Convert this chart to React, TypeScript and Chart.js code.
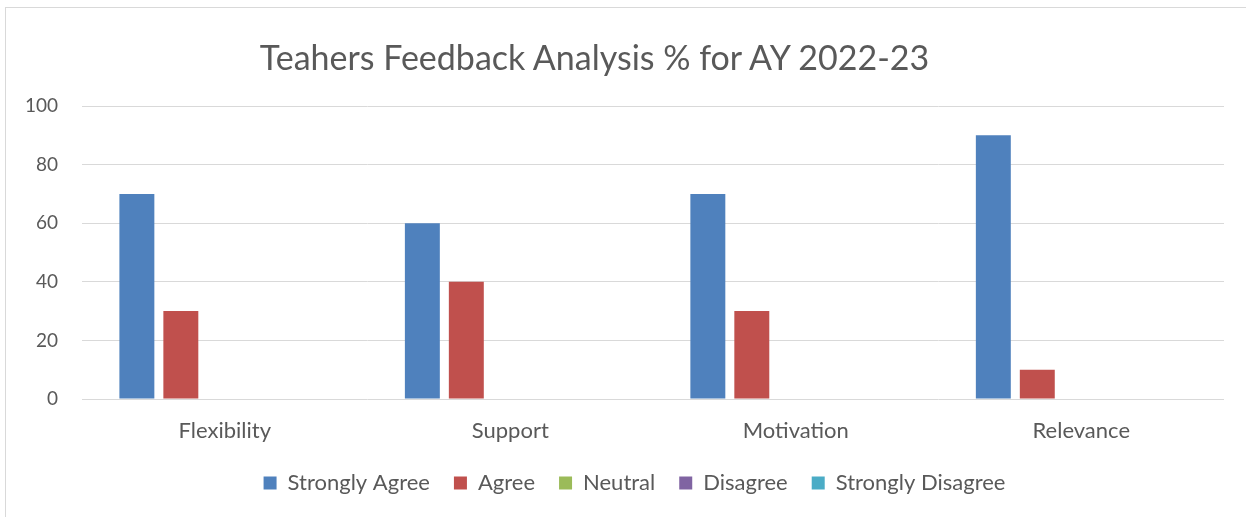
import React, { useEffect, useRef } from "react";
import { Chart, registerables } from "chart.js";

Chart.register(...registerables);

const categories = ["Flexibility", "Support", "Motivation", "Relevance"];
const stronglyAgree = [70, 60, 70, 90];
const agree = [30, 40, 30, 10];
const neutral = [0, 0, 0, 0];
const disagree = [0, 0, 0, 0];
const stronglyDisagree = [0, 0, 0, 0];
const seriesNames = ["Strongly Agree", "Agree", "Neutral", "Disagree", "Strongly Disagree"];
const seriesColors = ["#4F81BD", "#C0504D", "#9BBB59", "#8064A2", "#4BACC6"];
const titleText = "Teahers Feedback Analysis % for AY 2022-23";
const yMin = 0;
const yMax = 100;
const yStep = 20;

const FONT = "Lato, 'Open Sans', sans-serif";
const TEXT = "#595959";

const legendShift = {
  id: "legendShift",
  afterLayout(chart: any) {
    if (chart.legend) {
      chart.legend.left += 22;
      chart.legend.right += 22;
      chart.legend.top += 4;
      chart.legend.bottom += 4;
    }
  },
};

export default function App() {
  const canvasRef = useRef<HTMLCanvasElement | null>(null);

  useEffect(() => {
    document.body.style.margin = "0";
    const ctx = canvasRef.current;
    if (!ctx) return;
    const values = [stronglyAgree, agree, neutral, disagree, stronglyDisagree];
    const chart = new Chart(ctx, {
      type: "bar",
      data: {
        labels: categories,
        datasets: values.map((v, i) => ({
          label: seriesNames[i],
          data: v,
          backgroundColor: seriesColors[i],
          borderWidth: 0,
          categoryPercentage: 0.77,
          barPercentage: 0.795,
        })),
      },
      plugins: [legendShift],
      options: {
        animation: false,
        responsive: false,
        maintainAspectRatio: false,
        layout: { padding: { left: 1, right: 22, top: 106, bottom: 17 } },
        plugins: {
          title: { display: false },
          tooltip: { enabled: false },
          legend: {
            position: "bottom",
            labels: {
              boxWidth: 13,
              boxHeight: 13,
              padding: 24,
              color: TEXT,
              font: { family: FONT, size: 22 },
            },
          },
        },
        scales: {
          x: {
            grid: { display: false, drawTicks: false },
            border: { display: false },
            afterFit: (scale: any) => {
              scale.height = 45;
            },
            ticks: {
              color: TEXT,
              font: { family: FONT, size: 22 },
              padding: 19,
            },
          },
          y: {
            min: yMin,
            max: yMax,
            grid: { color: "#d9d9d9", lineWidth: 1, drawTicks: false },
            border: { display: false },
            ticks: {
              stepSize: yStep,
              color: TEXT,
              font: { family: FONT, size: 19 },
              padding: 24,
            },
          },
        },
      },
    });
    return () => chart.destroy();
  }, []);

  return (
    <div
      style={{
        position: "fixed",
        left: 0,
        top: 0,
        width: 1246,
        height: 517,
        background: "#fff",
        overflow: "hidden",
      }}
    >
      <div
        style={{
          position: "absolute",
          left: 5,
          top: 7,
          width: 1400,
          height: 700,
          border: "1px solid #d9d9d9",
          boxSizing: "border-box",
        }}
      />
      <canvas ref={canvasRef} width={1246} height={517} style={{ position: "absolute", left: 0, top: 0 }} />
      <div
        style={{
          position: "absolute",
          left: 0,
          top: 37,
          width: 1189,
          textAlign: "center",
          fontFamily: FONT,
          fontSize: 34,
          lineHeight: "40px",
          color: TEXT,
          whiteSpace: "nowrap",
        }}
      >
        {titleText}
      </div>
    </div>
  );
}
